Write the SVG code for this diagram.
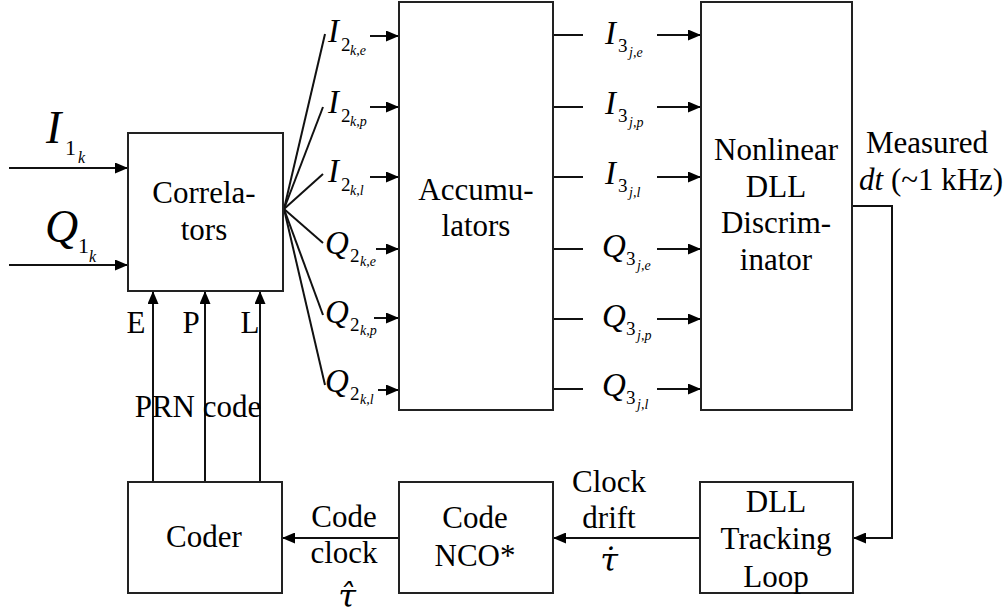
<svg xmlns="http://www.w3.org/2000/svg" width="1007" height="615" viewBox="0 0 1007 615">
<style>
.box{fill:#fff;stroke:#222;stroke-width:2}
.ln{fill:none;stroke:#111;stroke-width:2}
.t{font-family:"Liberation Serif","Times New Roman",serif;font-size:31px;fill:#000;text-anchor:middle}
.s{font-family:"Liberation Serif","Times New Roman",serif;fill:#000}
.i{font-style:italic}
.tau{font-family:"DejaVu Serif",serif;font-style:italic;font-size:32px;fill:#000;text-anchor:middle}
</style>
<defs>
<marker id="ah" markerUnits="userSpaceOnUse" markerWidth="13" markerHeight="11" refX="13" refY="5.5" orient="auto">
<path d="M0,0 L13,5.5 L0,11 z" fill="#000"/>
</marker>
</defs>
<rect width="1007" height="615" fill="#fff"/>

<g id="connectors">
<line class="ln" x1="9" y1="168" x2="128" y2="168" marker-end="url(#ah)"/>
<line class="ln" x1="9" y1="265" x2="128" y2="265" marker-end="url(#ah)"/>
<g class="ln" stroke-width="1.6">
<line x1="284" y1="209" x2="325" y2="34"/>
<line x1="284" y1="209" x2="323" y2="107"/>
<line x1="284" y1="209" x2="323" y2="174"/>
<line x1="284" y1="209" x2="323" y2="243"/>
<line x1="284" y1="209" x2="323" y2="315"/>
<line x1="284" y1="209" x2="325" y2="385"/>
</g>
<line class="ln" x1="370" y1="36" x2="399" y2="36" marker-end="url(#ah)"/>
<line class="ln" x1="370" y1="107" x2="399" y2="107" marker-end="url(#ah)"/>
<line class="ln" x1="370" y1="177" x2="399" y2="177" marker-end="url(#ah)"/>
<line class="ln" x1="376" y1="249" x2="399" y2="249" marker-end="url(#ah)"/>
<line class="ln" x1="374" y1="318" x2="399" y2="318" marker-end="url(#ah)"/>
<line class="ln" x1="378" y1="390" x2="399" y2="390" marker-end="url(#ah)"/>
<g class="ln">
<line x1="553" y1="35" x2="583" y2="35"/>
<line x1="553" y1="107" x2="583" y2="107"/>
<line x1="553" y1="177" x2="583" y2="177"/>
<line x1="553" y1="249" x2="583" y2="249"/>
<line x1="553" y1="319" x2="583" y2="319"/>
<line x1="553" y1="389" x2="583" y2="389"/>
</g>
<line class="ln" x1="657" y1="35" x2="701" y2="35" marker-end="url(#ah)"/>
<line class="ln" x1="657" y1="107" x2="701" y2="107" marker-end="url(#ah)"/>
<line class="ln" x1="657" y1="177" x2="701" y2="177" marker-end="url(#ah)"/>
<line class="ln" x1="657" y1="249" x2="701" y2="249" marker-end="url(#ah)"/>
<line class="ln" x1="657" y1="319" x2="701" y2="319" marker-end="url(#ah)"/>
<line class="ln" x1="657" y1="389" x2="701" y2="389" marker-end="url(#ah)"/>
<polyline class="ln" stroke="#444" points="852,206 892,206 892,538 853,538" marker-end="url(#ah)"/>
<line class="ln" x1="700" y1="538" x2="553" y2="538" marker-end="url(#ah)"/>
<line class="ln" x1="399" y1="538" x2="282" y2="538" marker-end="url(#ah)"/>
<line class="ln" x1="153" y1="482" x2="153" y2="291" marker-end="url(#ah)"/>
<line class="ln" x1="205" y1="482" x2="205" y2="291" marker-end="url(#ah)"/>
<line class="ln" x1="260" y1="482" x2="260" y2="291" marker-end="url(#ah)"/>
</g>

<g id="correlators">
<rect class="box" x="128" y="133" width="155" height="158"/>
<text class="t" x="204" y="203">Correla-</text>
<text class="t" x="204" y="240">tors</text>
</g>
<g id="accumulators">
<rect class="box" x="399" y="2" width="154" height="408"/>
<text class="t" x="476" y="200">Accumu-</text>
<text class="t" x="476" y="236">lators</text>
</g>
<g id="discriminator">
<rect class="box" x="701" y="2" width="151" height="408"/>
<text class="t" x="776" y="160">Nonlinear</text>
<text class="t" x="776" y="197">DLL</text>
<text class="t" x="776" y="233">Discrim-</text>
<text class="t" x="776" y="270">inator</text>
</g>
<g id="dll-tracking-loop">
<rect class="box" x="700" y="482" width="153" height="111"/>
<text class="t" x="776" y="512">DLL</text>
<text class="t" x="776" y="549">Tracking</text>
<text class="t" x="776" y="587">Loop</text>
</g>
<g id="code-nco">
<rect class="box" x="399" y="482" width="154" height="111"/>
<text class="t" x="475" y="528">Code</text>
<text class="t" x="475" y="566">NCO*</text>
</g>
<g id="coder">
<rect class="box" x="128" y="482" width="154" height="111"/>
<text class="t" x="204" y="547">Coder</text>
</g>

<g id="labels">
<text class="s i" x="46" y="143" font-size="46">I</text>
<text class="s" x="65" y="155" font-size="22">1</text>
<text class="s i" x="78" y="163" font-size="16">k</text>
<text class="s i" x="45" y="242" font-size="46">Q</text>
<text class="s" x="78" y="253" font-size="22">1</text>
<text class="s i" x="89" y="262" font-size="16">k</text>

<text class="s i" x="328" y="42" font-size="33">I</text>
<text class="s" x="341" y="51" font-size="19">2</text>
<text class="s i" x="350" y="55" font-size="14">k,e</text>
<text class="s i" x="328" y="113" font-size="33">I</text>
<text class="s" x="341" y="122" font-size="19">2</text>
<text class="s i" x="350" y="126" font-size="14">k,p</text>
<text class="s i" x="328" y="182" font-size="33">I</text>
<text class="s" x="341" y="191" font-size="19">2</text>
<text class="s i" x="350" y="195" font-size="14">k,l</text>
<text class="s i" x="325" y="254" font-size="33">Q</text>
<text class="s" x="350" y="262" font-size="19">2</text>
<text class="s i" x="360" y="266" font-size="14">k,e</text>
<text class="s i" x="325" y="323" font-size="33">Q</text>
<text class="s" x="350" y="331" font-size="19">2</text>
<text class="s i" x="360" y="335" font-size="14">k,p</text>
<text class="s i" x="325" y="392" font-size="33">Q</text>
<text class="s" x="350" y="400" font-size="19">2</text>
<text class="s i" x="360" y="404" font-size="14">k,l</text>

<text class="s i" x="605" y="44" font-size="33">I</text>
<text class="s" x="618" y="52" font-size="19">3</text>
<text class="s i" x="629" y="57" font-size="14">j,e</text>
<text class="s i" x="605" y="114" font-size="33">I</text>
<text class="s" x="618" y="122" font-size="19">3</text>
<text class="s i" x="629" y="127" font-size="14">j,p</text>
<text class="s i" x="605" y="184" font-size="33">I</text>
<text class="s" x="618" y="192" font-size="19">3</text>
<text class="s i" x="629" y="197" font-size="14">j,l</text>
<text class="s i" x="602" y="257" font-size="33">Q</text>
<text class="s" x="626" y="265" font-size="19">3</text>
<text class="s i" x="637" y="270" font-size="14">j,e</text>
<text class="s i" x="602" y="327" font-size="33">Q</text>
<text class="s" x="626" y="335" font-size="19">3</text>
<text class="s i" x="637" y="340" font-size="14">j,p</text>
<text class="s i" x="602" y="396" font-size="33">Q</text>
<text class="s" x="626" y="404" font-size="19">3</text>
<text class="s i" x="637" y="409" font-size="14">j,l</text>

<text class="t" x="927" y="153">Measured</text>
<text class="s" x="859" y="190" font-size="31"><tspan class="i">dt</tspan> (~1 kHz)</text>

<text class="t" x="136" y="333">E</text>
<text class="t" x="191" y="333">P</text>
<text class="t" x="250" y="333">L</text>
<text class="t" x="198" y="417">PRN code</text>

<text class="t" x="344" y="527">Code</text>
<text class="t" x="344" y="563">clock</text>
<text class="tau" x="347" y="607">τ̂</text>

<text class="t" x="609" y="492">Clock</text>
<text class="t" x="609" y="528">drift</text>
<text class="tau" x="609" y="571">τ̇</text>
</g>
</svg>
